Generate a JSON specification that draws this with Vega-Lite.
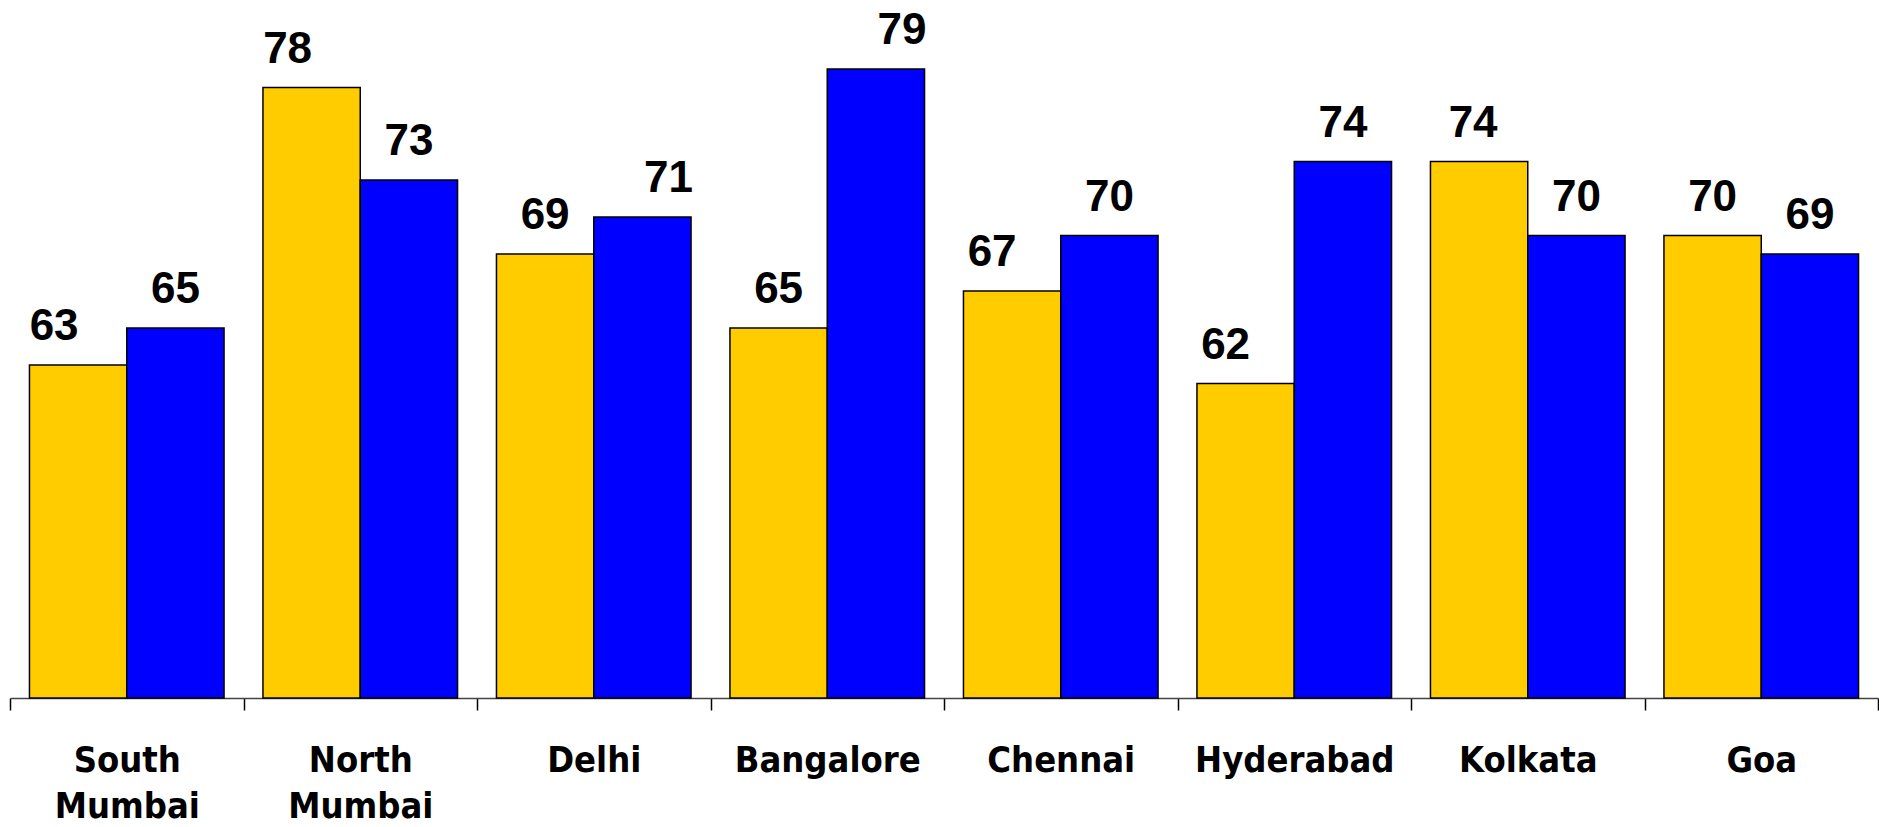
{
  "$schema": "https://vega.github.io/schema/vega-lite/v6.json",
  "width": 1868,
  "height": 698,
  "autosize": {"type": "none"},
  "padding": {"left": 10, "top": 0, "right": 1, "bottom": 129},
  "background": "white",
  "config": {"view": {"stroke": null}},
  "data": {
    "values": [
      {"city": "South Mumbai", "series": "Series 1", "value": 63},
      {"city": "South Mumbai", "series": "Series 2", "value": 65},
      {"city": "North Mumbai", "series": "Series 1", "value": 78},
      {"city": "North Mumbai", "series": "Series 2", "value": 73},
      {"city": "Delhi", "series": "Series 1", "value": 69},
      {"city": "Delhi", "series": "Series 2", "value": 71},
      {"city": "Bangalore", "series": "Series 1", "value": 65},
      {"city": "Bangalore", "series": "Series 2", "value": 79},
      {"city": "Chennai", "series": "Series 1", "value": 67},
      {"city": "Chennai", "series": "Series 2", "value": 70},
      {"city": "Hyderabad", "series": "Series 1", "value": 62},
      {"city": "Hyderabad", "series": "Series 2", "value": 74},
      {"city": "Kolkata", "series": "Series 1", "value": 74},
      {"city": "Kolkata", "series": "Series 2", "value": 70},
      {"city": "Goa", "series": "Series 1", "value": 70},
      {"city": "Goa", "series": "Series 2", "value": 69}
    ]
  },
  "encoding": {
    "x": {
      "field": "city",
      "type": "nominal",
      "sort": null,
      "scale": {"paddingInner": 0, "paddingOuter": 0},
      "axis": {
        "title": null,
        "labelAngle": 0,
        "labelLimit": 0,
        "labelOverlap": false,
        "tickBand": "extent",
        "tickSize": 12,
        "tickWidth": 1.5,
        "tickColor": "#000000",
        "domainColor": "#444444",
        "domainWidth": 1.5,
        "labelFont": "DejaVu Sans Condensed",
        "labelFontWeight": "bold",
        "labelFontSize": 36,
        "labelColor": "#000000",
        "labelBaseline": "alphabetic",
        "labelPadding": 61,
        "labelLineHeight": 46,
        "labelExpr": "split(datum.label, ' ')"
      }
    },
    "xOffset": {
      "field": "series",
      "type": "nominal",
      "scale": {"paddingOuter": 0.2, "paddingInner": 0}
    },
    "y": {
      "field": "value",
      "type": "quantitative",
      "scale": {"domain": [45, 82.73], "nice": false, "zero": false},
      "axis": null
    }
  },
  "layer": [
    {
      "mark": {"type": "bar", "stroke": "#000000", "strokeWidth": 1.5},
      "encoding": {
        "y2": {"datum": 45},
        "color": {
          "field": "series",
          "type": "nominal",
          "scale": {"range": ["#FFCC00", "#0000FF"]},
          "legend": null
        }
      }
    },
    {
      "transform": [{"filter": "!((datum.series == 'Series 1' && indexof(['South Mumbai','North Mumbai','Chennai','Hyderabad','Kolkata'], datum.city) >= 0) || (datum.series == 'Series 2' && indexof(['Delhi','Bangalore'], datum.city) >= 0))"}],
      "mark": {"type": "text", "baseline": "alphabetic", "dy": -25, "font": "Liberation Sans", "fontWeight": "bold", "fontSize": 44, "color": "#000000"},
      "encoding": {"text": {"field": "value", "type": "quantitative"}}
    },
    {
      "transform": [{"filter": "datum.series == 'Series 1' && indexof(['South Mumbai','North Mumbai'], datum.city) >= 0"}],
      "mark": {"type": "text", "baseline": "alphabetic", "dy": -25, "dx": -24, "font": "Liberation Sans", "fontWeight": "bold", "fontSize": 44, "color": "#000000"},
      "encoding": {"text": {"field": "value", "type": "quantitative"}}
    },
    {
      "transform": [{"filter": "datum.series == 'Series 1' && indexof(['Chennai','Hyderabad'], datum.city) >= 0"}],
      "mark": {"type": "text", "baseline": "alphabetic", "dy": -25, "dx": -20, "font": "Liberation Sans", "fontWeight": "bold", "fontSize": 44, "color": "#000000"},
      "encoding": {"text": {"field": "value", "type": "quantitative"}}
    },
    {
      "transform": [{"filter": "datum.series == 'Series 1' && datum.city == 'Kolkata'"}],
      "mark": {"type": "text", "baseline": "alphabetic", "dy": -25, "dx": -6, "font": "Liberation Sans", "fontWeight": "bold", "fontSize": 44, "color": "#000000"},
      "encoding": {"text": {"field": "value", "type": "quantitative"}}
    },
    {
      "transform": [{"filter": "datum.series == 'Series 2' && indexof(['Delhi','Bangalore'], datum.city) >= 0"}],
      "mark": {"type": "text", "baseline": "alphabetic", "dy": -25, "dx": 26, "font": "Liberation Sans", "fontWeight": "bold", "fontSize": 44, "color": "#000000"},
      "encoding": {"text": {"field": "value", "type": "quantitative"}}
    }
  ]
}
